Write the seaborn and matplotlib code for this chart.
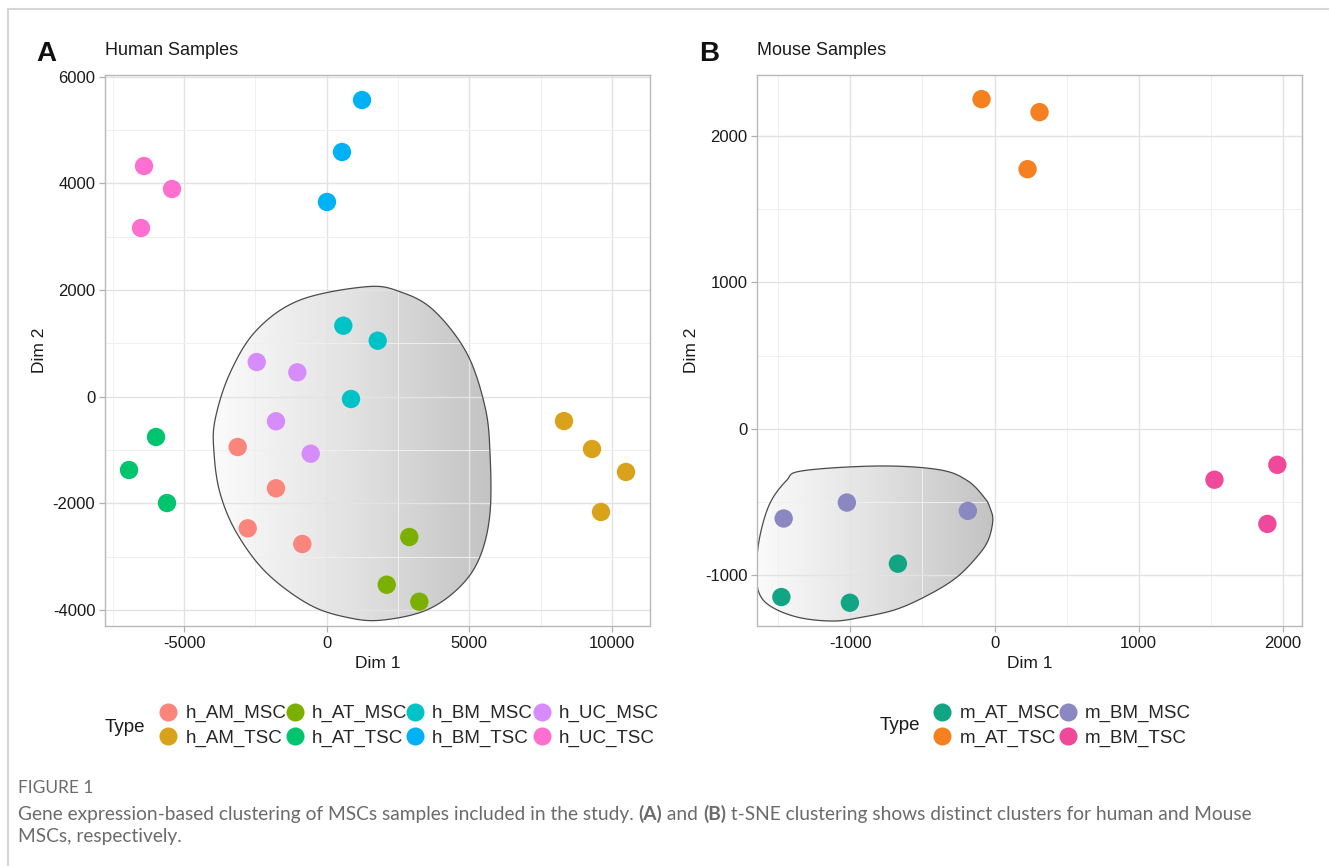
import numpy as np
import pandas as pd
import matplotlib
matplotlib.use("Agg")
import matplotlib.pyplot as plt
import seaborn as sns
from matplotlib.patches import Polygon
from matplotlib.colors import LinearSegmentedColormap
from matplotlib.ticker import MultipleLocator
from matplotlib.transforms import IdentityTransform
from matplotlib.lines import Line2D

# ---------------------
# data (t-SNE coordinates)
# ---------------------
human_type = (["h_BM_TSC"] * 3 + ["h_UC_TSC"] * 3 + ["h_BM_MSC"] * 3 + ["h_UC_MSC"] * 4 +
              ["h_AM_MSC"] * 4 + ["h_AT_TSC"] * 3 + ["h_AM_TSC"] * 4 + ["h_AT_MSC"] * 3)
human_dim1 = [1238, 536, 10,
              -6406, -5424, -6511,
              582, 1788, 852,
              -2454, -1031, -1778, -561,
              -3121, -1778, -2770, -856,
              -5985, -6932, -5600,
              8320, 9302, 10494, 9618,
              2896, 2104, 3247]
human_dim2 = [5561, 4587, 3650,
              4324, 3893, 3162,
              1331, 1050, -43,
              650, 457, -461, -1068,
              -943, -1717, -2467, -2761,
              -755, -1374, -1993,
              -456, -980, -1411, -2161,
              -2630, -3524, -3843]

mouse_type = ["m_AT_TSC"] * 3 + ["m_BM_TSC"] * 3 + ["m_BM_MSC"] * 3 + ["m_AT_MSC"] * 3
mouse_dim1 = [-90, 312, 229,
              1525, 1961, 1892,
              -1462, -1024, -185,
              -670, -1478, -1003]
mouse_dim2 = [2253, 2164, 1774,
              -349, -247, -651,
              -614, -505, -562,
              -923, -1151, -1190]

human_order = ["h_AM_MSC", "h_AM_TSC", "h_AT_MSC", "h_AT_TSC",
               "h_BM_MSC", "h_BM_TSC", "h_UC_MSC", "h_UC_TSC"]
human_colors = ["#FA857D", "#D9A21A", "#7CB000", "#00C46E",
                "#00C3C8", "#00B2F5", "#D68CFA", "#FF6FD0"]
mouse_order = ["m_AT_MSC", "m_AT_TSC", "m_BM_MSC", "m_BM_TSC"]
mouse_colors = ["#12A583", "#F5801F", "#8B87C0", "#F0489A"]

# outline of the highlighted clusters (hand drawn in the original)
human_hull_x = [1402, -936, -2454, -3391, -3916, -3951, -3741, -3156, -2104, -586,
                817, 1974, 3506, 4674, 5375, 5726, 5726, 5550, 4909, 3738, 2570]
human_hull_y = [2062, 1812, 1250, 444, -437, -1055, -1805, -2555, -3305, -3904,
                -4148, -4186, -3998, -3561, -2999, -2180, -1055, -187, 819, 1625, 1968]
mouse_hull_x = [-1651, -1629, -1559, -1444, -1331, -797, -381, -187, -69, -30, -12,
                -46, -127, -265, -450, -681, -936, -1121, -1351, -1536, -1629]
mouse_hull_y = [-973, -745, -514, -356, -288, -255, -281, -356, -473, -545, -630,
                -767, -882, -1018, -1132, -1235, -1292, -1315, -1292, -1224, -1132]

human_df = pd.DataFrame({"Dim1": human_dim1, "Dim2": human_dim2, "Type": human_type})
mouse_df = pd.DataFrame({"Dim1": mouse_dim1, "Dim2": mouse_dim2, "Type": mouse_type})

sns.set_theme(style="white")
plt.rcParams["font.family"] = ["Liberation Sans", "DejaVu Sans"]
plt.rcParams["axes.unicode_minus"] = False

W, H = 1329, 866
fig = plt.figure(figsize=(W / 100, H / 100), dpi=100)


def px_axes(l, t, r, b):
    return fig.add_axes([l / W, 1 - b / H, (r - l) / W, (b - t) / H])


def closed_spline(xs, ys, n=24):
    p = np.column_stack([xs, ys]).astype(float)
    out = []
    t = np.linspace(0, 1, n, endpoint=False)[:, None]
    for i in range(len(p)):
        p0, p1, p2, p3 = p[i - 1], p[i], p[(i + 1) % len(p)], p[(i + 2) % len(p)]
        out.append(0.5 * (2 * p1 + (-p0 + p2) * t + (2 * p0 - 5 * p1 + 4 * p2 - p3) * t ** 2
                          + (-p0 + 3 * p1 - 3 * p2 + p3) * t ** 3))
    return np.vstack(out)


grad = LinearSegmentedColormap.from_list("blob", ["#fbfbfb", "#e2e2e2", "#c3c3c3"])


def draw_blob(ax, hx, hy, xlim, ylim):
    sx, sy = xlim[1] - xlim[0], ylim[1] - ylim[0]
    pts = closed_spline(np.array(hx) / sx, np.array(hy) / sy)
    pts[:, 0] *= sx
    pts[:, 1] *= sy
    poly = Polygon(pts, closed=True, facecolor="none", edgecolor="#4a4a4a",
                   linewidth=0.9, zorder=1.5)
    ax.add_patch(poly)
    img = np.linspace(0, 1, 256).reshape(1, -1)
    im = ax.imshow(img, extent=[pts[:, 0].min(), pts[:, 0].max(), pts[:, 1].min(), pts[:, 1].max()],
                   aspect="auto", cmap=grad, zorder=0.3, interpolation="bilinear")
    im.set_clip_path(poly)


def style_axes(ax, xlim, ylim, xmaj, ymaj):
    ax.xaxis.set_major_locator(MultipleLocator(xmaj))
    ax.xaxis.set_minor_locator(MultipleLocator(xmaj / 2))
    ax.yaxis.set_major_locator(MultipleLocator(ymaj))
    ax.yaxis.set_minor_locator(MultipleLocator(ymaj / 2))
    ax.set_axisbelow(True)
    ax.grid(which="major", color="#e3e3e3", linewidth=1.0)
    ax.grid(which="minor", color="#efefef", linewidth=0.7)
    for s in ax.spines.values():
        s.set_color("#b8b8b8")
        s.set_linewidth(1.0)
    ax.tick_params(which="major", length=4, width=0.9, color="#b0b0b0",
                   labelsize=12, labelcolor="#1a1a1a", pad=3,
                   bottom=True, left=True)
    ax.tick_params(which="minor", length=0)


def panel(ax, df, order, colors, hx, hy, xlim, ylim, xmaj, ymaj, title, letter, leg_anchor, type_xy):
    style_axes(ax, xlim, ylim, xmaj, ymaj)
    draw_blob(ax, hx, hy, xlim, ylim)
    sns.scatterplot(data=df, x="Dim1", y="Dim2", hue="Type", hue_order=order,
                    palette=dict(zip(order, colors)), s=175, linewidth=0,
                    ax=ax, zorder=3, legend=False)
    ax.set_xlim(xlim)
    ax.set_ylim(ylim)
    ax.set_xlabel("Dim 1", fontsize=12.5, color="#1a1a1a", labelpad=4)
    ax.set_ylabel("Dim 2", fontsize=12.5, color="#1a1a1a", labelpad=4)
    ax.text(0.0, 1.045, title, transform=ax.transAxes, fontsize=13,
            ha="left", va="center", color="#1a1a1a")
    fig.text(letter[1] / W, 1 - letter[2] / H, letter[0], fontsize=20,
             fontweight="bold", ha="left", va="center", color="#111111")
    handles = [Line2D([], [], marker="o", linestyle="", markersize=13,
                      markerfacecolor=c, markeredgewidth=0) for c in colors]
    leg = fig.legend(handles, order, ncol=len(order) // 2, frameon=False,
                     loc="center left", bbox_to_anchor=(leg_anchor[0] / W, 1 - leg_anchor[1] / H),
                     fontsize=13.5, handlelength=0.9, handletextpad=0.45,
                     columnspacing=0.0, labelspacing=0.4, borderpad=0, borderaxespad=0)
    fig.text(type_xy[0] / W, 1 - type_xy[1] / H, "Type", fontsize=13.5,
             ha="left", va="center", color="#1a1a1a")
    return leg


ax1 = px_axes(105, 75, 650, 626)
panel(ax1, human_df, human_order, human_colors, human_hull_x, human_hull_y,
      (-7774, 11336), (-4298, 6030), 5000, 2000, "Human Samples", ("A", 36, 54),
      (160, 726), (105, 727))

ax2 = px_axes(757, 75, 1302, 626)
panel(ax2, mouse_df, mouse_order, mouse_colors, mouse_hull_x, mouse_hull_y,
      (-1647, 2132), (-1349, 2418), 1000, 1000, "Mouse Samples", ("B", 699, 54),
      (934, 726), (880, 726))

# page frame lines
fig.add_artist(Line2D([8 / W, 1], [1 - 9 / H, 1 - 9 / H], transform=fig.transFigure,
                      color="#d6d6d6", linewidth=1.5))
fig.add_artist(Line2D([8 / W, 8 / W], [0, 1 - 9 / H], transform=fig.transFigure,
                      color="#d6d6d6", linewidth=1.5))

# caption
cap_font = ["Lato", "DejaVu Sans"]
cap_col = "#6b6b6b"
fig.text(18 / W, 1 - 788 / H, "FIGURE 1", fontsize=12.5, family=cap_font,
         color=cap_col, ha="left", va="center")

renderer = fig.canvas.get_renderer()
pieces = [("Gene expression-based clustering of MSCs samples included in the study. ", "normal"),
          ("(A)", "bold"), (" and ", "normal"), ("(B)", "bold"),
          (" t-SNE clustering shows distinct clusters for human and Mouse", "normal")]
x = 18
for txt, wt in pieces:
    t = fig.text(x, H - 820, txt, fontsize=13.8, family=cap_font, weight=wt, color=cap_col,
                 ha="left", va="baseline", transform=IdentityTransform())
    x = t.get_window_extent(renderer).x1
fig.text(18, H - 842, "MSCs, respectively.", fontsize=13.8, family=cap_font,
         color=cap_col, ha="left", va="baseline", transform=IdentityTransform())

fig.savefig("out.png", dpi=100)
